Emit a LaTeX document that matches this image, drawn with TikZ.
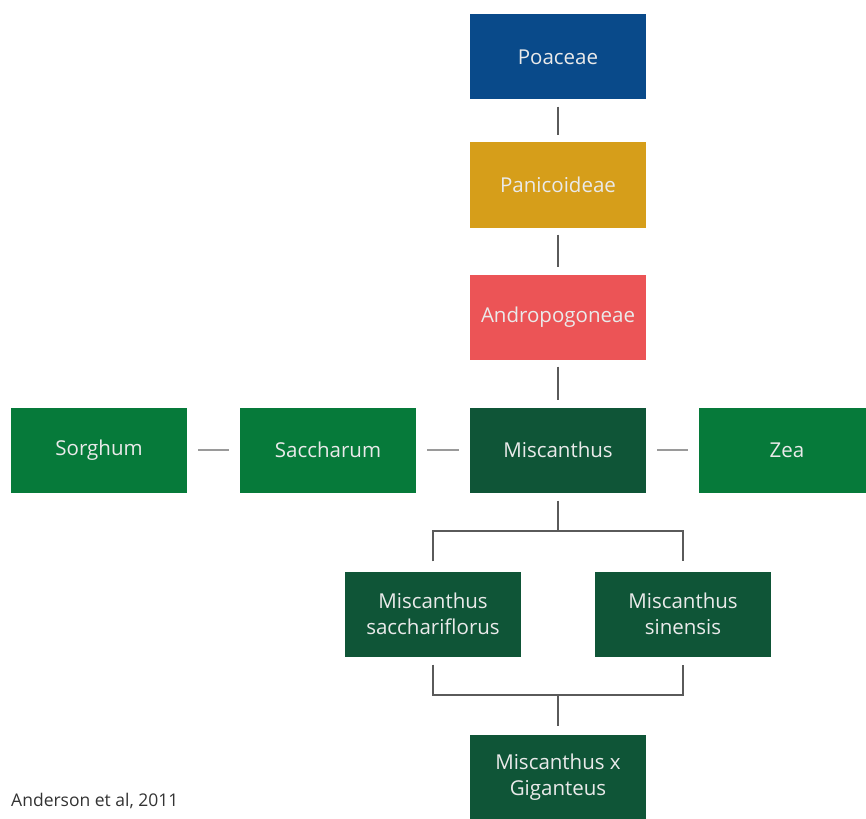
\documentclass[tikz,border=0pt]{standalone}
\usepackage{fontspec}
\setmainfont{Open Sans}
\definecolor{cblue}{HTML}{094A8A}
\definecolor{cgold}{HTML}{D69E1A}
\definecolor{cred}{HTML}{EC5456}
\definecolor{cdark}{HTML}{0F5537}
\definecolor{cgreen}{HTML}{067A3A}
\definecolor{ctext}{HTML}{EAEAEA}
\definecolor{cline}{HTML}{5A5A5A}
\definecolor{chline}{HTML}{9A9A9A}
\begin{document}
\begin{tikzpicture}[x=1pt,y=-1pt,
  box/.style={minimum width=176pt,minimum height=85pt,inner sep=0pt,text=ctext,
    font=\fontsize{20.5}{26.5}\selectfont,align=center},
  vline/.style={draw=cline,line width=1.3pt,shorten <=7pt,shorten >=7pt},
  hline/.style={draw=chline,line width=2pt,shorten <=11pt,shorten >=11pt},
  bline/.style={draw=cline,line width=1.3pt}]
\useasboundingbox (0,0) rectangle (866,818);
\clip (0,0) rectangle (866,818);
\node[box,fill=cblue] (poa) at (558,57) {Poaceae};
\node[box,fill=cgold] (pan) at (558,185) {Panicoideae};
\node[box,fill=cred] (and) at (558,317) {Andropogoneae};
\node[box,fill=cdark] (mis) at (558,450) {Miscanthus};
\node[box,fill=cgreen] (sor) at (99,450) {Sorghum};
\node[box,fill=cgreen] (sac) at (328,450) {Saccharum};
\node[box,fill=cgreen] (zea) at (787,450) {Zea};
\node[box,fill=cdark] (ms1) at (433,614) {Miscanthus\\sacchariflorus};
\node[box,fill=cdark] (ms2) at (683,614) {Miscanthus\\sinensis};
\node[box,fill=cdark] (gig) at (558,777) {Miscanthus x\\Giganteus};
\node[anchor=base west,text=black!80,font=\fontsize{17.5}{20}\selectfont,inner sep=0pt] (cite) at (11,806) {Anderson et al, 2011};
\coordinate (b1) at (558,531);
\coordinate (b2) at (558,695);
\draw[vline] (poa) -- (pan);
\draw[vline] (pan) -- (and);
\draw[vline] (and) -- (mis);
\draw[hline] (sor) -- (sac);
\draw[hline] (sac) -- (mis);
\draw[hline] (mis) -- (zea);
\draw[bline] ([yshift=-8pt]mis.south) -- (b1);
\draw[bline] ([yshift=10pt]ms1.north) -- (ms1.north |- b1) -- (ms2.north |- b1) -- ([yshift=10pt]ms2.north);
\draw[bline] ([yshift=-8pt]ms1.south) -- (ms1.south |- b2) -- (ms2.south |- b2) -- ([yshift=-8pt]ms2.south);
\draw[bline] (b2) -- ([yshift=8pt]gig.north);
\end{tikzpicture}
\end{document}
